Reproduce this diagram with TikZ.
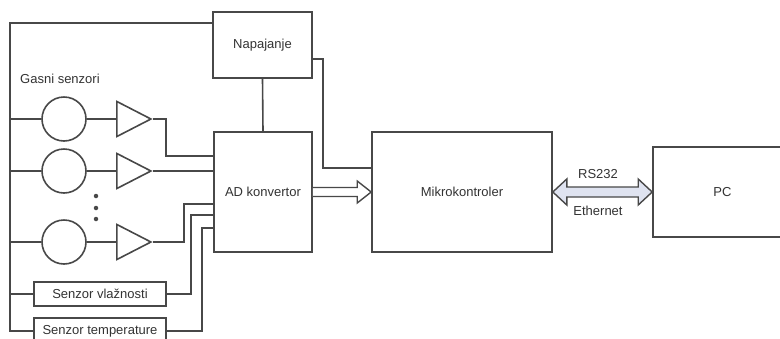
\documentclass[tikz,border=0pt]{standalone}
\usepackage{fontspec}
\setmainfont{Liberation Sans}
\usetikzlibrary{shapes.geometric,calc}
\definecolor{ln}{HTML}{484848}
\definecolor{tx}{HTML}{333333}
\definecolor{arrfill}{HTML}{DFE3F0}
\tikzset{
  wire/.style={draw=ln,line width=1.6pt},
  blk/.style={draw=ln,line width=1.6pt,rectangle,inner sep=0pt,fill=white,text=tx,font=\fontsize{13}{15}\selectfont},
  sens/.style={draw=ln,line width=1.6pt,circle,minimum size=44pt,inner sep=0pt},
  amp/.style={draw=ln,line width=1.6pt,isosceles triangle,isosceles triangle stretches,minimum width=35pt,minimum height=34pt,inner sep=0pt,anchor=apex},
  lbl/.style={text=tx,font=\fontsize{13}{15}\selectfont,inner sep=0pt},
  dotn/.style={circle,fill=ln,minimum size=4.5pt,inner sep=0pt}
}
\begin{document}
\begin{tikzpicture}[x=1pt,y=-1pt]
\useasboundingbox (0,0) rectangle (780,338);
\clip (0,0) rectangle (780,338);
\fill[white] (0,0) rectangle (780,338);

% blocks
\node[blk,minimum width=99pt,minimum height=66pt] (nap) at (262.5,45) {Napajanje};
\node[blk,minimum width=98pt,minimum height=120pt] (ad) at (263,192) {AD konvertor};
\node[blk,minimum width=180pt,minimum height=120pt] (mk) at (462,192) {Mikrokontroler};
\node[blk,minimum width=139pt,minimum height=90pt] (pc) at (722.5,192) {PC};
\node[blk,minimum width=132pt,minimum height=24pt] (sv) at (100,294) {Senzor vlažnosti};
\node[blk,minimum width=132pt,minimum height=26pt] (st) at (100,331) {Senzor temperature};

\node[lbl,anchor=west] (gas) at (20,79) {Gasni senzori};

% gas sensors
\node[sens] (c1) at (64,119) {};
\node[sens] (c2) at (64,171) {};
\node[sens] (c3) at (64,242) {};
\node[amp] (t1) at (153,119) {};
\node[amp] (t2) at (153,171) {};
\node[amp] (t3) at (153,242) {};

\node[dotn] (d1) at (96,196) {};
\node[dotn] (d2) at (96,208) {};
\node[dotn] (d3) at (96,219) {};

% left bus
\coordinate (tl) at (10,23);
\coordinate (bl) at (10,331);
\draw[wire] (nap.west |- tl) -- (tl) -- (bl) -- (st.west);
\draw[wire] (c1.west -| tl) -- (c1.west);
\draw[wire] (c2.west -| tl) -- (c2.west);
\draw[wire] (c3.west -| tl) -- (c3.west);
\draw[wire] (sv.west -| tl) -- (sv.west);

% circle to amplifier
\draw[wire] (c1.east) -- (c1.east -| t1.left corner);
\draw[wire] (c2.east) -- (c2.east -| t2.left corner);
\draw[wire] (c3.east) -- (c3.east -| t3.left corner);

% amplifiers to AD
\draw[wire] (t1.apex) -- (166,119) -- (166,156) -- (ad.west |- 0,156);
\draw[wire] (t2.apex) -- (ad.west |- t2.apex);
\draw[wire] (t3.apex) -- (184,242) -- (184,204) -- (ad.west |- 0,204);
\draw[wire] (sv.east) -- (191,294) -- (191,215) -- (ad.west |- 0,215);
\draw[wire] (st.east) -- (202,331) -- (202,228) -- (ad.west |- 0,228);

% power
\draw[wire] (nap.south) -- (ad.north);
\draw[wire] (nap.east |- 0,59) -- (323,59) -- (323,168) -- (mk.west |- 0,168);

% hollow arrow AD -> MK
\draw[draw=ln,line width=1.4pt,fill=white]
  ($(ad.east)+(0,-4.5)$) -- ($(mk.west)+(-14,-4.5)$) -- ($(mk.west)+(-14,-11)$)
  -- (mk.west) -- ($(mk.west)+(-14,11)$) -- ($(mk.west)+(-14,4.5)$) -- ($(ad.east)+(0,4.5)$);

% double arrow MK <-> PC
\draw[draw=ln,line width=1.4pt,fill=arrfill]
  (mk.east) -- ($(mk.east)+(14,-13)$) -- ($(mk.east)+(14,-5)$) -- ($(pc.west)+(-14,-5)$)
  -- ($(pc.west)+(-14,-13)$) -- (pc.west) -- ($(pc.west)+(-14,13)$) -- ($(pc.west)+(-14,5)$)
  -- ($(mk.east)+(14,5)$) -- ($(mk.east)+(14,13)$) -- cycle;

\node[lbl] (rs) at (598,174) {RS232};
\node[lbl] (eth) at (598,211) {Ethernet};
\end{tikzpicture}
\end{document}
